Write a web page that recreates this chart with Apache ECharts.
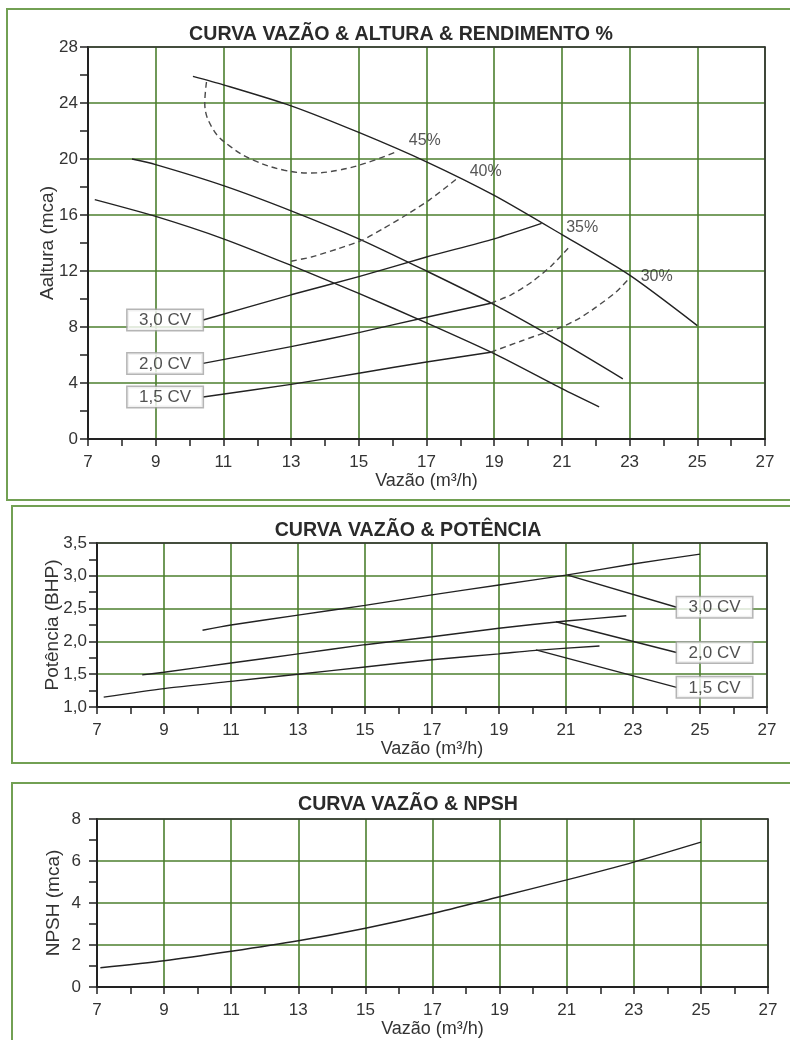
<!DOCTYPE html>
<html>
<head>
<meta charset="utf-8">
<script src="https://cdn.jsdelivr.net/npm/echarts@6/dist/echarts.min.js"></script>
<style>
html,body{margin:0;padding:0;background:#fff;}
#chart{width:790px;height:1040px;}
</style>
</head>
<body>
<div id="chart"></div>
<script>
// ---------- tick values ----------
const flowTicks  = [7, 9, 11, 13, 15, 17, 19, 21, 23, 25, 27];
const headTicks  = [0, 4, 8, 12, 16, 20, 24, 28];
const powerTicks = [1.0, 1.5, 2.0, 2.5, 3.0, 3.5];
const npshTicks  = [0, 2, 4, 6, 8];

// ---------- texts ----------
const titles = ['CURVA VAZÃO & ALTURA & RENDIMENTO %', 'CURVA VAZÃO & POTÊNCIA', 'CURVA VAZÃO & NPSH'];
const xName = 'Vazão (m³/h)';
const yNames = ['Aaltura (mca)', 'Potência (BHP)', 'NPSH (mca)'];
const cvLabels = ['3,0 CV', '2,0 CV', '1,5 CV'];
const effLabels = ['45%', '40%', '35%', '30%'];

// ---------- panel 1: head curves [flow, head] ----------
const head30 = [[10.1,25.9],[11,25.3],[13,23.8],[15,21.9],[17,19.8],[19,17.4],[21,14.6],[23,11.7],[25,8.1]];
const head20 = [[8.3,20.0],[9,19.6],[11,18.1],[13,16.3],[15,14.3],[17,12.0],[19,9.6],[21,6.9],[22.8,4.3]];
const head15 = [[7.2,17.1],[9,15.9],[11,14.3],[13,12.4],[15,10.4],[17,8.3],[19,6.1],[21,3.6],[22.1,2.3]];
// leader lines from CV labels
const lead30 = [[10.4,8.5],[13,10.3],[15,11.6],[17,13.0],[19,14.3],[20.4,15.4]];
const lead20 = [[10.4,5.4],[13,6.6],[15,7.6],[17,8.7],[18.9,9.7]];
const lead15 = [[10.4,3.0],[13,3.9],[15,4.7],[17,5.5],[18.9,6.2]];
// efficiency (dashed) curves
const eff45 = [[10.5,25.5],[10.45,24.0],[10.7,22.1],[11.2,20.9],[11.9,19.9],[12.8,19.2],[13.6,19.0],[14.4,19.2],[15.2,19.7],[16.1,20.5]];
const eff40 = [[13.0,12.7],[13.6,13.0],[14.4,13.6],[15.1,14.2],[15.7,15.0],[16.4,16.0],[17.1,17.1],[17.9,18.6]];
const eff35 = [[18.9,9.7],[19.5,10.3],[20.1,11.2],[20.7,12.4],[21.25,13.8]];
const eff30 = [[18.9,6.2],[19.8,7.0],[20.5,7.6],[21.0,8.0],[21.5,8.6],[22.0,9.4],[22.6,10.5],[23.0,11.5]];
const effLabelPos = [[16.95,21.3],[18.75,19.1],[21.6,15.1],[23.8,11.6]];
const cvLabelPos1 = [[10.4,8.5],[10.4,5.4],[10.4,3.0]];

// ---------- panel 2: power [flow, BHP] ----------
const pow30 = [[10.15,2.17],[11,2.25],[13,2.40],[15,2.55],[17,2.71],[19,2.86],[21,3.01],[23,3.18],[25,3.33]];
const pow20 = [[8.35,1.49],[9,1.53],[11,1.67],[13,1.81],[15,1.95],[17,2.07],[19,2.20],[21,2.31],[22.8,2.39]];
const pow15 = [[7.2,1.15],[9,1.28],[11,1.39],[13,1.50],[15,1.61],[17,1.72],[19,1.81],[20,1.86],[22,1.93]];
const powLead30 = [[21.05,3.01],[24.3,2.52]];
const powLead20 = [[20.7,2.30],[24.3,1.83]];
const powLead15 = [[20.1,1.87],[24.3,1.30]];

// ---------- panel 3: NPSH [flow, mca] ----------
const npsh = [[7.1,0.92],[9,1.25],[11,1.7],[13,2.2],[15,2.8],[17,3.5],[19,4.3],[21,5.1],[23,5.95],[25,6.9]];

// ---------- styling ----------
const FONT = '"Liberation Sans", Arial, sans-serif';
const GREEN = '#4c7f2e';
const FRAME = '#72a053';
const INK = '#222';

const grids = [
  {left: 88, top: 47, width: 677, height: 392},
  {left: 97, top: 543, width: 670, height: 164},
  {left: 97, top: 819, width: 671, height: 168}
];

function commaFmt(d) { return v => Number(v).toFixed(d).replace('.', ','); }

function xAxisMain(gi) {
  return {
    type: 'value', gridIndex: gi, position: 'bottom',
    min: flowTicks[0], max: flowTicks[flowTicks.length - 1], interval: flowTicks[1] - flowTicks[0],
    name: xName, nameLocation: 'middle', nameGap: 33, nameMoveOverlap: false,
    nameTextStyle: {fontFamily: FONT, fontSize: 18, color: '#333'},
    axisLine: {show: true, onZero: false, lineStyle: {color: INK, width: 2}},
    axisTick: {show: true, length: 7, lineStyle: {color: INK, width: 1.5}},
    minorTick: {show: true, splitNumber: 2, length: 7, lineStyle: {color: INK, width: 1.5}},
    axisLabel: {fontFamily: FONT, fontSize: 17, color: '#333', margin: 15},
    splitLine: {show: true, lineStyle: {color: GREEN, width: 1.6}},
    minorSplitLine: {show: false}
  };
}
function xAxisTop(gi) {
  return {
    type: 'value', gridIndex: gi, position: 'top',
    min: flowTicks[0], max: flowTicks[flowTicks.length - 1],
    axisLine: {show: true, onZero: false, lineStyle: {color: '#333', width: 1.6}},
    axisTick: {show: false}, axisLabel: {show: false}, splitLine: {show: false}
  };
}
function yAxisMain(gi, ticks, fmt, margin, gap) {
  return {
    type: 'value', gridIndex: gi, position: 'left',
    min: ticks[0], max: ticks[ticks.length - 1], interval: ticks[1] - ticks[0],
    name: yNames[gi], nameLocation: 'middle', nameGap: gap, nameRotate: 90, nameMoveOverlap: false,
    nameTextStyle: {fontFamily: FONT, fontSize: 19, color: '#333'},
    axisLine: {show: true, onZero: false, lineStyle: {color: INK, width: 2}},
    axisTick: {show: true, length: 8, lineStyle: {color: INK, width: 1.5}},
    minorTick: {show: true, splitNumber: 2, length: 8, lineStyle: {color: INK, width: 1.5}},
    axisLabel: {fontFamily: FONT, fontSize: 17, color: '#333', margin: margin, formatter: fmt},
    splitLine: {show: true, lineStyle: {color: GREEN, width: 1.6}},
    minorSplitLine: {show: false}
  };
}
function yAxisRight(gi, ticks) {
  return {
    type: 'value', gridIndex: gi, position: 'right',
    min: ticks[0], max: ticks[ticks.length - 1],
    axisLine: {show: true, onZero: false, lineStyle: {color: '#333', width: 1.6}},
    axisTick: {show: false}, axisLabel: {show: false}, splitLine: {show: false}
  };
}

function curve(gi, data, dashed, smooth) {
  return {
    type: 'line', xAxisIndex: gi, yAxisIndex: gi, data: data,
    showSymbol: false, symbol: 'none', smooth: smooth === undefined ? 0.25 : smooth,
    lineStyle: {color: dashed ? '#4a4a4a' : INK, width: 1.4, type: dashed ? [6, 4] : 'solid'},
    z: 5, silent: true
  };
}
function boxLabels(gi, names, pos, side) {
  return {
    type: 'scatter', xAxisIndex: gi, yAxisIndex: gi, symbolSize: 1,
    itemStyle: {color: 'rgba(0,0,0,0)'}, silent: true, z: 10,
    data: names.map((n, i) => ({name: n, value: pos[i]})),
    label: {
      show: true, position: side, distance: 0, formatter: '{box|{b}}',
      rich: {
        box: {
          fontFamily: FONT, fontSize: 17, color: '#262626',
          backgroundColor: '#fff', borderColor: '#a3a3a3', borderWidth: 1.5,
          padding: [2, 0, 1, 0], width: 75, align: 'center', lineHeight: 18
        }
      }
    }
  };
}
function plainLabels(gi, names, pos) {
  return {
    type: 'scatter', xAxisIndex: gi, yAxisIndex: gi, symbolSize: 1,
    itemStyle: {color: 'rgba(0,0,0,0)'}, silent: true, z: 10,
    data: names.map((n, i) => ({name: n, value: pos[i]})),
    label: {show: true, position: 'inside', formatter: '{b}', fontFamily: FONT, fontSize: 16, color: '#2a2a2a'}
  };
}

const powLabelPos = [powLead30[1], powLead20[1], powLead15[1]];

const option = {
  animation: false,
  backgroundColor: '#fff',
  grid: grids.map(g => Object.assign({containLabel: false, show: false}, g)),
  xAxis: [xAxisMain(0), xAxisMain(1), xAxisMain(2), xAxisTop(0), xAxisTop(1), xAxisTop(2)],
  yAxis: [
    yAxisMain(0, headTicks, v => String(v), 10, 31),
    yAxisMain(1, powerTicks, commaFmt(1), 10, 35),
    yAxisMain(2, npshTicks, v => String(v), 16, 34),
    yAxisRight(0, headTicks), yAxisRight(1, powerTicks), yAxisRight(2, npshTicks)
  ],
  graphic: [
    {type: 'rect', shape: {x: 7, y: 9, width: 820, height: 491}, style: {fill: 'none', stroke: FRAME, lineWidth: 2}, silent: true},
    {type: 'rect', shape: {x: 12, y: 506, width: 820, height: 257}, style: {fill: 'none', stroke: FRAME, lineWidth: 2}, silent: true},
    {type: 'rect', shape: {x: 12, y: 783, width: 820, height: 300}, style: {fill: 'none', stroke: FRAME, lineWidth: 2}, silent: true},
    {type: 'text', x: 401, y: 35, style: {text: titles[0], textAlign: 'center', textVerticalAlign: 'middle', font: 'bold 19.6px ' + FONT, fill: '#2a2a2a'}, silent: true},
    {type: 'text', x: 408, y: 531, style: {text: titles[1], textAlign: 'center', textVerticalAlign: 'middle', font: 'bold 19.6px ' + FONT, fill: '#2a2a2a'}, silent: true},
    {type: 'text', x: 408, y: 805, style: {text: titles[2], textAlign: 'center', textVerticalAlign: 'middle', font: 'bold 19.6px ' + FONT, fill: '#2a2a2a'}, silent: true}
  ],
  series: [
    curve(0, head30), curve(0, head20), curve(0, head15),
    curve(0, lead30), curve(0, lead20), curve(0, lead15),
    curve(0, eff45, true, 0.4), curve(0, eff40, true), curve(0, eff35, true), curve(0, eff30, true),
    plainLabels(0, effLabels, effLabelPos),
    boxLabels(0, cvLabels, cvLabelPos1, 'left'),
    curve(1, pow30), curve(1, pow20), curve(1, pow15),
    curve(1, powLead30, false, false), curve(1, powLead20, false, false), curve(1, powLead15, false, false),
    boxLabels(1, cvLabels, powLabelPos, 'right'),
    curve(2, npsh)
  ]
};

const chart = echarts.init(document.getElementById('chart'), null, {renderer: 'canvas'});
chart.setOption(option);
</script>
</body>
</html>
